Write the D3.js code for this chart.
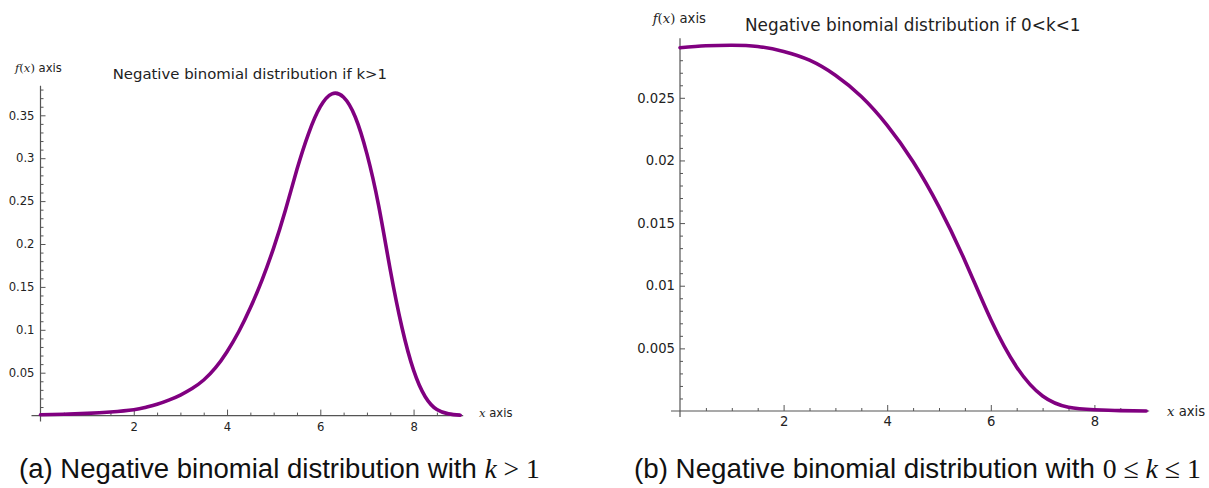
<!DOCTYPE html>
<html>
<head>
<meta charset="utf-8">
<script src="https://cdn.jsdelivr.net/npm/d3@7"></script>
<style>
  body { margin: 0; background: #fff; }
  svg { display: block; }
  .tick text { fill: #222; font-family: "DejaVu Sans", sans-serif; }
</style>
</head>
<body>
<svg id="chart"></svg>
<script>
"use strict";

// =================== DATA ===================
// (a) k > 1
const leftX = [0, 0.5, 1, 1.5, 2, 2.25, 2.5, 2.75, 3, 3.25, 3.5, 3.75, 4, 4.25, 4.5, 4.75, 5, 5.25, 5.5, 5.75, 6, 6.25, 6.5, 6.75, 7, 7.25, 7.5, 7.75, 8, 8.25, 8.5, 8.75, 9];
const leftY = [0.001, 0.0016, 0.0026, 0.0042, 0.0068, 0.0095, 0.0132, 0.018, 0.024, 0.0315, 0.0415, 0.0555, 0.0745, 0.0977, 0.1256, 0.158, 0.1955, 0.239, 0.287, 0.329, 0.360, 0.375, 0.371, 0.348, 0.305, 0.245, 0.170, 0.103, 0.053, 0.022, 0.007, 0.002, 0.0005];
const leftXTicks = [2, 4, 6, 8];
const leftYTicks = [0.05, 0.1, 0.15, 0.2, 0.25, 0.3, 0.35];

// (b) 0 < k < 1
const rightX = [0, 0.5, 1, 1.5, 2, 2.5, 3, 3.5, 4, 4.5, 5, 5.5, 6, 6.5, 7, 7.5, 8, 8.5, 9];
const rightY = [0.0290, 0.02915, 0.0292, 0.0291, 0.0287, 0.0280, 0.0268, 0.0251, 0.0228, 0.0199, 0.0163, 0.0120, 0.0073, 0.0035, 0.0012, 0.0003, 0.0001, 0.00003, 0];
const rightXTicks = [2, 4, 6, 8];
const rightYTicks = [0.005, 0.01, 0.015, 0.02, 0.025];

const titles = ["Negative binomial distribution if k>1", "Negative binomial distribution if 0<k<1"];

// =================== SETUP ===================
const svgWidth = 1209;
const svgHeight = 488;
const svg = d3.select("#chart").attr("width", svgWidth).attr("height", svgHeight);
svg.append("rect").attr("width", svgWidth).attr("height", svgHeight).attr("fill", "#fff");

const AXIS = "#555";
const PURPLE = "#800080";

// true when v (in hundredths) is not a multiple of 0.05
function i5(v) { return Math.round(v * 100) % 5 !== 0; }

// scale text so it spans a given width (reference fonts are not installed)
function fitWidth(sel, target) {
  const w = sel.node().getComputedTextLength();
  const fs = parseFloat(sel.style("font-size"));
  sel.style("font-size", (fs * target / w) + "px");
}

function mathLabel(g, x, y, size, parts) {
  const t = g.append("text").attr("x", x).attr("y", y).style("font-size", size + "px").style("fill", "#222");
  parts.forEach(p => {
    t.append("tspan")
      .style("font-family", p.math ? "'DejaVu Serif', 'Liberation Serif', serif" : "'DejaVu Sans', sans-serif")
      .style("font-style", p.italic ? "italic" : "normal")
      .text(p.s);
  });
  return t;
}

function drawPanel(p) {
  const g = svg.append("g");
  const x = d3.scaleLinear().domain([0, 9]).range(p.xRange);
  const y = d3.scaleLinear().domain([0, p.yMax]).range(p.yRange);
  const x0 = x(0), y0 = y(0);

  // axis lines
  g.append("line").attr("x1", x0 - 9).attr("x2", x(9) + 3).attr("y1", y0).attr("y2", y0)
    .attr("stroke", AXIS).attr("stroke-width", 1.2);
  g.append("line").attr("x1", x0).attr("x2", x0).attr("y1", p.yRange[1]).attr("y2", y0 + 6)
    .attr("stroke", AXIS).attr("stroke-width", 1.2);

  // minor ticks
  const xMinor = d3.range(0.5, 9, 0.5).filter(v => !p.xTicks.includes(v));
  g.append("g").attr("transform", `translate(0,${y0})`)
    .call(d3.axisBottom(x).tickValues(xMinor).tickSize(-3).tickFormat(""))
    .call(a => a.select(".domain").remove())
    .selectAll("line").attr("stroke", AXIS);
  g.append("g").attr("transform", `translate(${x0},0)`)
    .call(d3.axisLeft(y).tickValues(p.yMinor).tickSize(-3).tickFormat(""))
    .call(a => a.select(".domain").remove())
    .selectAll("line").attr("stroke", AXIS);

  // major ticks + labels
  g.append("g").attr("transform", `translate(0,${y0})`)
    .call(d3.axisBottom(x).tickValues(p.xTicks).tickSize(-6).tickPadding(p.pad + 1).tickFormat(d => String(d)))
    .call(a => a.select(".domain").remove())
    .call(a => a.selectAll("line").attr("stroke", AXIS))
    .call(a => a.selectAll("text").style("font-size", p.fs + "px"));
  g.append("g").attr("transform", `translate(${x0},0)`)
    .call(d3.axisLeft(y).tickValues(p.yTicks).tickSize(-5).tickPadding(p.pad).tickFormat(d => String(d)))
    .call(a => a.select(".domain").remove())
    .call(a => a.selectAll("line").attr("stroke", AXIS))
    .call(a => a.selectAll("text").style("font-size", p.fs + "px"));

  // curve
  const line = d3.line().x(d => x(d[0])).y(d => y(d[1])).curve(d3.curveNatural);
  g.append("path").datum(d3.zip(p.xs, p.ys))
    .attr("d", line).attr("fill", "none")
    .attr("stroke", PURPLE).attr("stroke-width", 3.6)
    .attr("stroke-linejoin", "round").attr("stroke-linecap", "round");

  // labels
  mathLabel(g, p.fLabel[0], p.fLabel[1], p.fs, [
    { s: "f", math: true, italic: true }, { s: "(", math: true }, { s: "x", math: true, italic: true },
    { s: ")", math: true }, { s: " axis" }]);
  mathLabel(g, p.xLabel[0], p.xLabel[1], p.fs, [{ s: "x", math: true, italic: true }, { s: " axis" }]);

  const title = g.append("text").attr("x", p.title[0]).attr("y", p.title[1])
    .style("font-family", "'DejaVu Sans', sans-serif").style("font-size", "14px").style("fill", "#222")
    .text(p.titleText);
  fitWidth(title, p.title[2]);
}

drawPanel({
  xs: leftX, ys: leftY, xTicks: leftXTicks, yTicks: leftYTicks,
  yMinor: d3.range(1, 39).map(i => i / 100).filter(v => i5(v)),
  xRange: [40.5, 460.2], yRange: [415.6, 85.7], yMax: 0.3845,
  fs: 11.6, pad: 6,
  fLabel: [15, 72], xLabel: [479, 416.5], title: [112.7, 79, 274.7], titleText: titles[0]
});

drawPanel({
  xs: rightX, ys: rightY, xTicks: rightXTicks, yTicks: rightYTicks,
  yMinor: d3.range(1, 30).map(i => i / 1000).filter(v => i5(v * 10)),
  xRange: [680, 1146.2], yRange: [411, 38.3], yMax: 0.02975,
  fs: 13.2, pad: 5,
  fLabel: [652.7, 23], xLabel: [1167, 415.5], title: [745, 30.5, 335.7], titleText: titles[1]
});

// =================== CAPTIONS ===================
const capA = svg.append("text").attr("x", 19).attr("y", 478)
  .style("font-family", "'Liberation Sans', sans-serif").style("font-size", "21px").style("fill", "#111");
capA.append("tspan").text("(a) Negative binomial distribution with ");
capA.append("tspan").style("font-family", "'Liberation Serif', serif").style("font-style", "italic").text("k");
capA.append("tspan").style("font-family", "'Liberation Serif', serif").text(" > 1");
fitWidth(capA, 521);

const capB = svg.append("text").attr("x", 634).attr("y", 478)
  .style("font-family", "'Liberation Sans', sans-serif").style("font-size", "21px").style("fill", "#111");
capB.append("tspan").text("(b) Negative binomial distribution with ");
capB.append("tspan").style("font-family", "'Liberation Serif', serif").text("0 ≤ ");
capB.append("tspan").style("font-family", "'Liberation Serif', serif").style("font-style", "italic").text("k");
capB.append("tspan").style("font-family", "'Liberation Serif', serif").text(" ≤ 1");
fitWidth(capB, 567);
</script>
</body>
</html>
